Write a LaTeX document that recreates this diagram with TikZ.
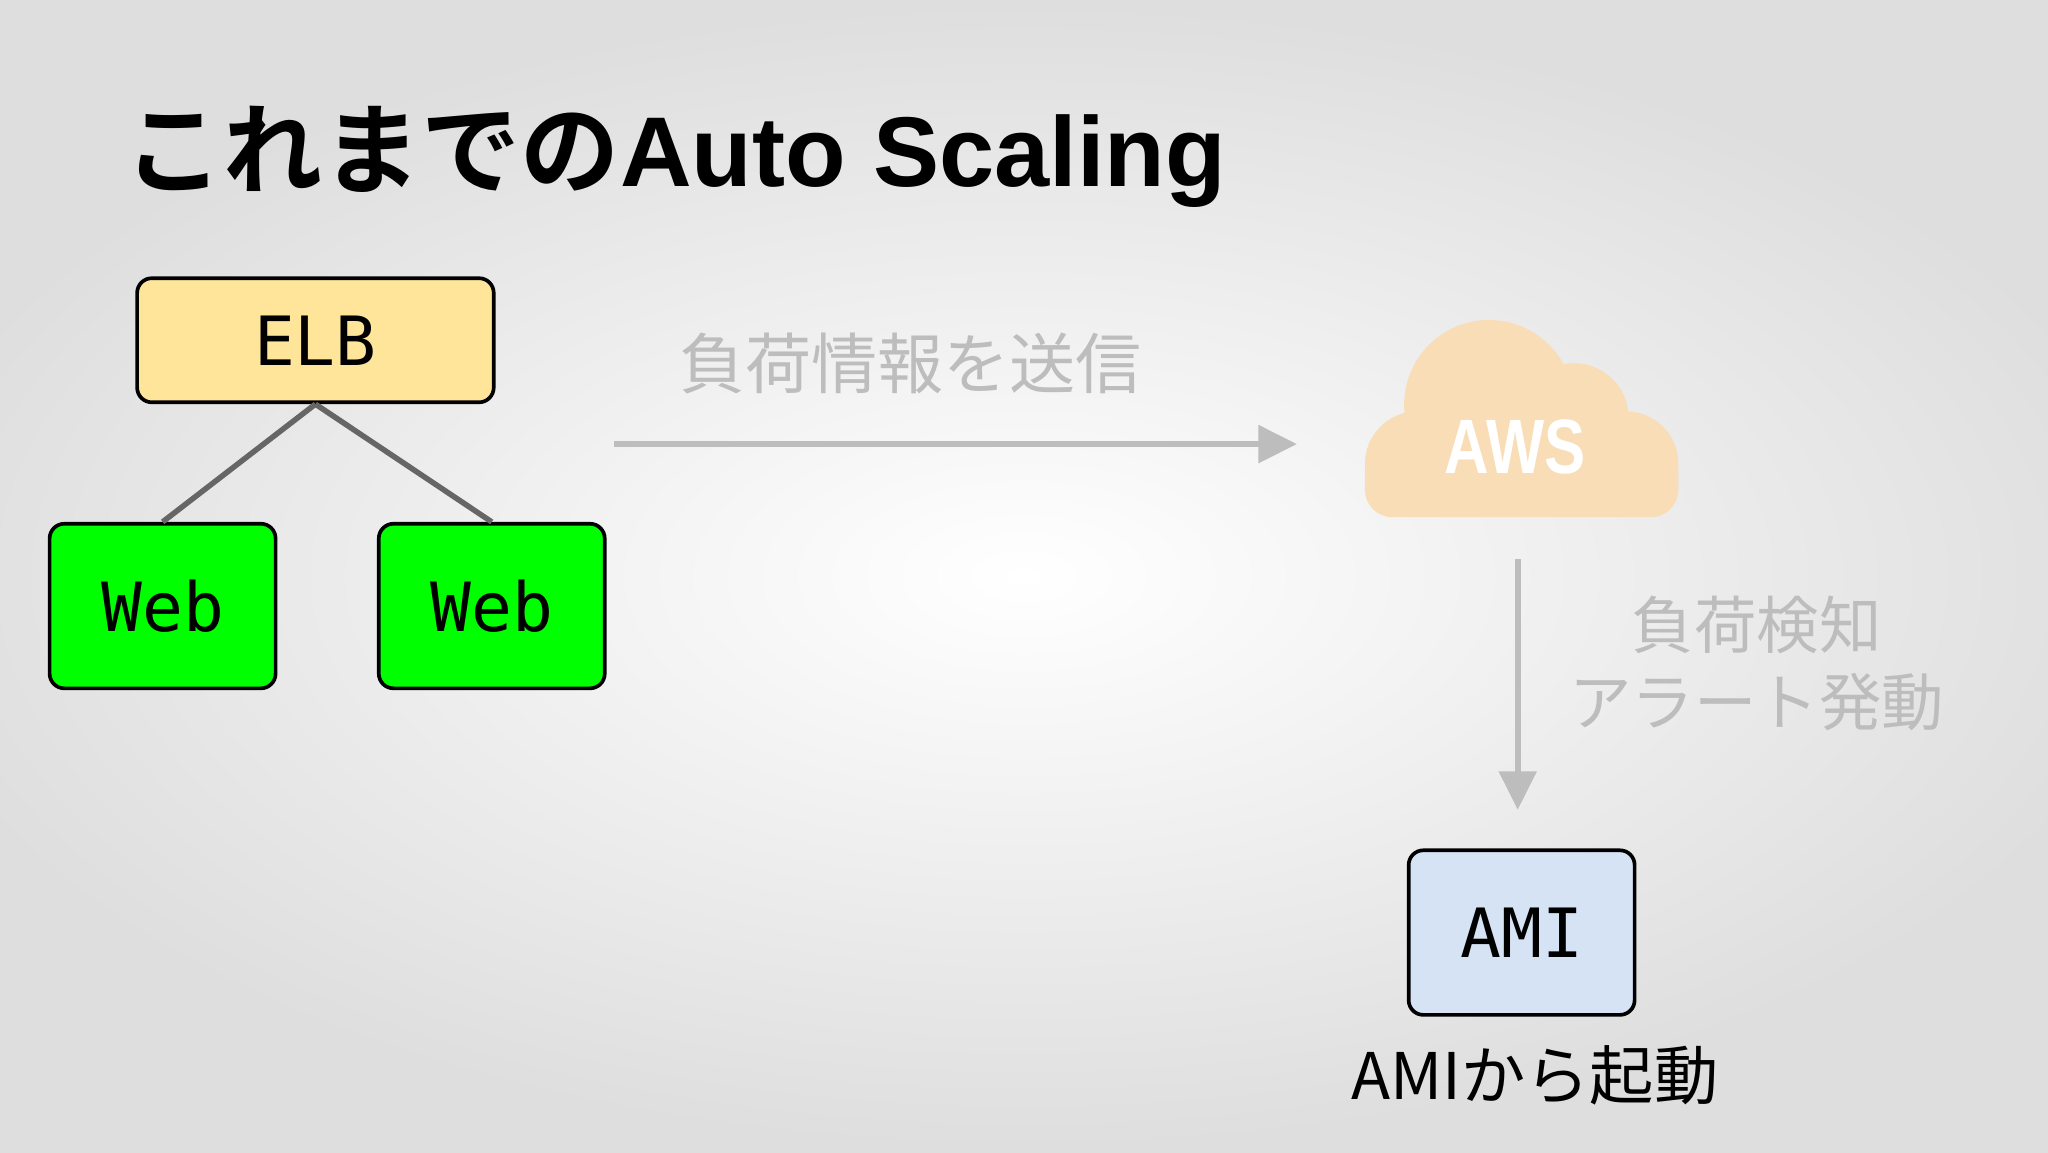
\documentclass[tikz,border=0pt]{standalone}
\usepackage{fontspec}
\setmainfont{Liberation Sans}
\setmonofont{DejaVu Sans Mono}
\newfontfamily\jp{Noto Sans CJK JP}
\newfontfamily\jpb{Noto Sans CJK JP Bold}
\usetikzlibrary{arrows.meta,shadings}
\definecolor{elbc}{HTML}{FFE599}
\definecolor{amic}{HTML}{D5E3F5}
\definecolor{lbl}{HTML}{BDBDBD}
\definecolor{cloudc}{HTML}{F9DDB6}
\tikzset{
 box/.style={draw=black,line width=4pt,rounded corners=16pt,font=\ttfamily\fontsize{74}{74}\selectfont},
 link/.style={draw=black!60,line width=6pt},
 arr/.style={draw=lbl,line width=7pt,-{Triangle[length=42pt,width=40pt]}},
 glabel/.style={text=lbl,font=\jp\fontsize{72}{86}\selectfont,align=center}
}
\begin{document}
\begin{tikzpicture}[x=0.05cm,y=-0.05cm]
\useasboundingbox (0,0) rectangle (1568,882);
\begin{scope}
\clip (0,0) rectangle (1568,882);
\shade[inner color=white,outer color=black!13] (-100,0) rectangle (1668,882);
\end{scope}
\node[anchor=west,inner sep=0,font=\jpb\fontsize{108}{108}\selectfont] (title) at (95,120) {これまでの{\bfseries\rmfamily Auto Scaling}};
\node[box,fill=elbc,minimum width=273*0.05cm,minimum height=95*0.05cm] (elb) at (241.5,260.5) {ELB};
\node[box,fill=green,minimum width=173*0.05cm,minimum height=126*0.05cm] (w1) at (124.5,464) {Web};
\node[box,fill=green,minimum width=173*0.05cm,minimum height=126*0.05cm] (w2) at (376.5,464) {Web};
\draw[link] (elb.south) -- (w1.north);
\draw[link] (elb.south) -- (w2.north);
\node[glabel] (l1) at (697,278) {負荷情報を送信};
\coordinate (a1) at (470,340);
\coordinate (a2) at (993,340);
\draw[arr] (a1) -- (a2);
% cloud
\fill[cloudc] (1085,355) circle (40) (1140,310) circle (65) (1205,320) circle (42) (1245,355) circle (40);
\fill[cloudc,rounded corners=30pt] (1045,340) rectangle (1285,396);
\node[text=white,font=\fontsize{84}{84}\selectfont\bfseries,xscale=0.8] (aws) at (1160,342) {AWS};
\coordinate (b1) at (1162,428);
\coordinate (b2) at (1162,620);
\draw[arr] (b1) -- (b2);
\node[glabel,font=\jp\fontsize{68}{84}\selectfont] (l2) at (1345,508) {負荷検知\\アラート発動};
\node[box,fill=amic,minimum width=173*0.05cm,minimum height=126*0.05cm] (ami) at (1165,714) {AMI};
\node[font=\jp\fontsize{70}{70}\selectfont] (cap) at (1175,823) {AMIから起動};
\end{tikzpicture}
\end{document}
